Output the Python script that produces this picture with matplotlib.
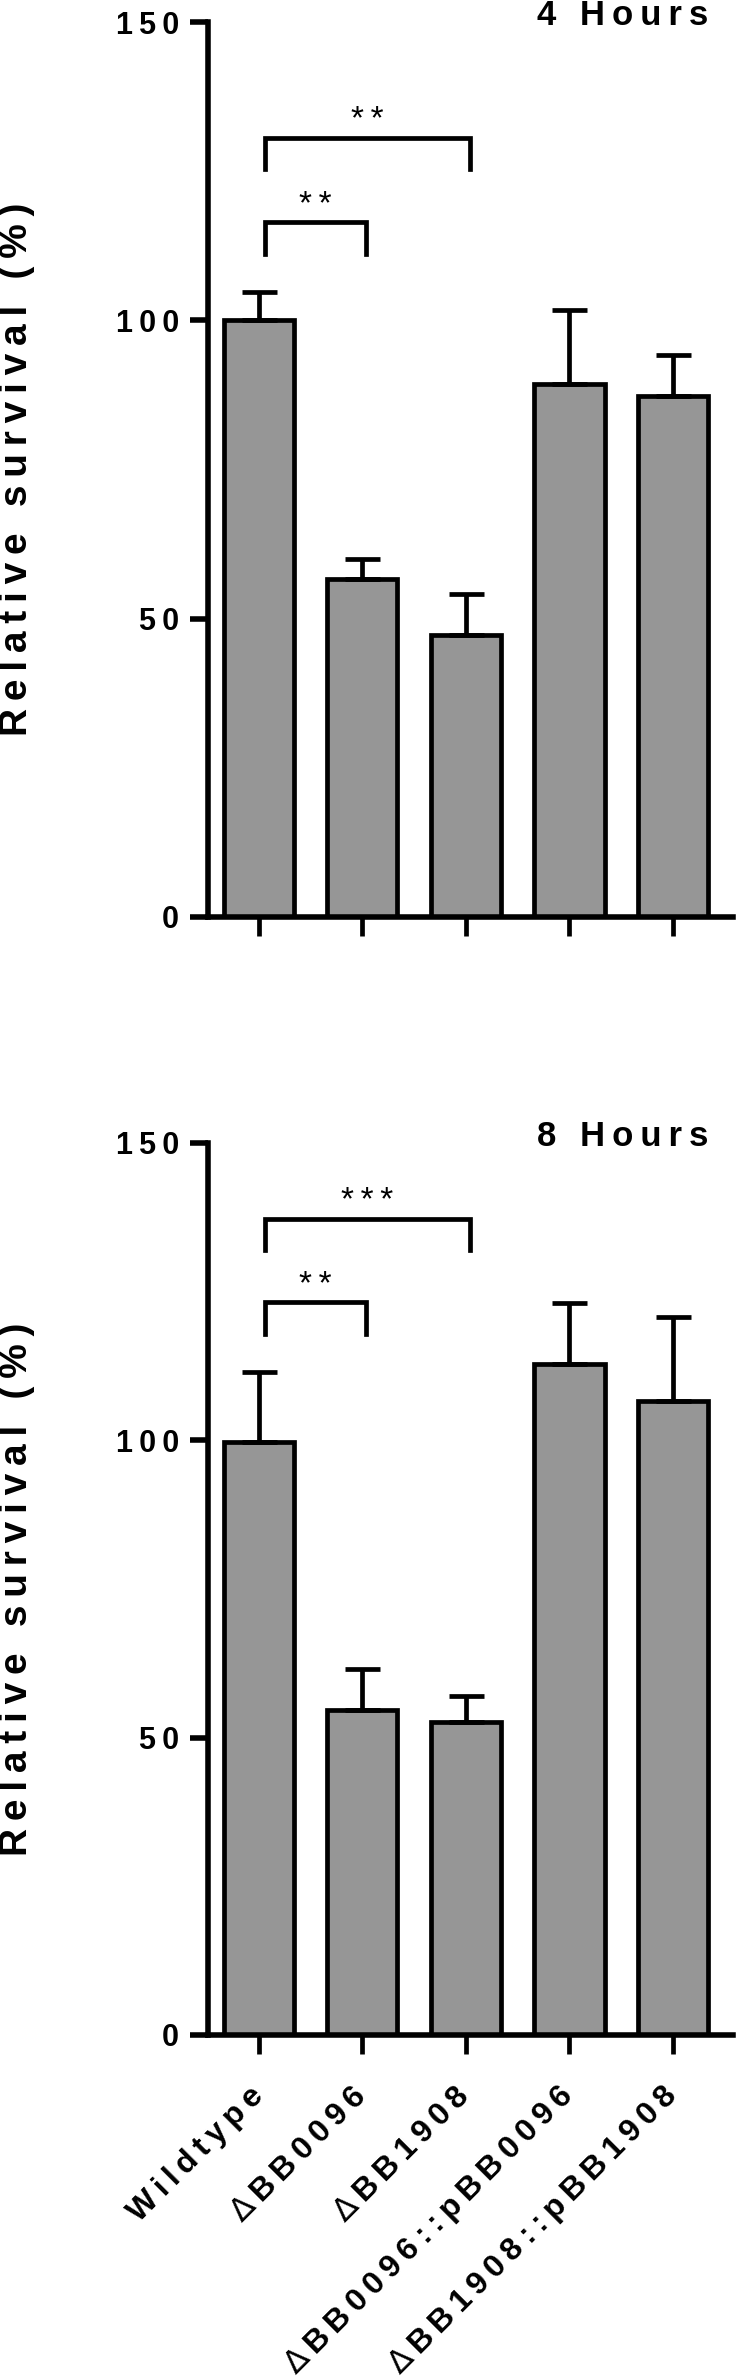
import matplotlib
matplotlib.use("Agg")
import matplotlib.pyplot as plt
import numpy as np

plt.rcParams['font.family'] = ['Liberation Sans', 'DejaVu Sans']

# data
strains = ["Wildtype", "\u0394BB0096", "\u0394BB1908",
           "\u0394BB0096::pBB0096", "\u0394BB1908::pBB1908"]
panel_titles = ["4 Hours", "8 Hours"]
survival_4h = [100.0, 56.6, 47.2, 89.3, 87.4]
sem_4h = [4.8, 3.4, 6.9, 12.5, 6.8]
survival_8h = [99.8, 54.6, 52.6, 112.8, 106.6]
sem_8h = [11.7, 6.9, 4.4, 10.3, 14.1]
yticks = [0, 50, 100, 150]
# significance brackets: (bar a, bar b, stars)
sig_4h = [(0, 1, "**"), (0, 2, "**")]
sig_8h = [(0, 1, "**"), (0, 2, "***")]

TS = "\u2009"  # thin space, GraphPad style letter spacing


def spaced(s):
    return TS.join(s)


def strain_label(s):
    # thin regular-weight delta like the original export
    if s.startswith("\u0394"):
        return r"$\Delta$" + TS + spaced(s[1:])
    return spaced(s)


W, H = 737, 2379
fig = plt.figure(figsize=(W / 100, H / 100), dpi=100)

# axes boxes in pixels (left, top, right, bottom)
boxes = [(208, 22, 733, 917), (208, 1143, 733, 2035)]

panels = [(survival_4h, sem_4h, sig_4h), (survival_8h, sem_8h, sig_8h)]

for k, ((vals, errs, sigs), box) in enumerate(zip(panels, boxes)):
    l, t, r, b = box
    ax = fig.add_axes([l / W, 1 - b / H, (r - l) / W, (b - t) / H])
    x = np.arange(len(strains))
    ax.bar(x, vals, width=0.68, color='#969696', edgecolor='black',
           linewidth=3.4, zorder=2)
    ax.errorbar(x, vals, yerr=[np.zeros(len(vals)), errs], fmt='none',
                ecolor='black', elinewidth=3.4, capsize=12.6, capthick=3.4,
                zorder=3)

    ax.set_xlim(-0.49, 4.58)
    ax.set_ylim(0, 150)
    ax.spines['top'].set_visible(False)
    ax.spines['right'].set_visible(False)
    for s in ['left', 'bottom']:
        ax.spines[s].set_linewidth(4)
        ax.spines[s].set_capstyle('projecting')

    ax.set_yticks(yticks)
    ax.set_yticklabels([spaced(str(v)) for v in yticks], fontweight='bold')
    ax.tick_params(axis='y', length=13, width=4, pad=8, labelsize=22)
    ax.set_xticks(x)
    ax.tick_params(axis='x', length=13.5, width=3.4, pad=27)
    if k == 1:
        ax.set_xticklabels([strain_label(s) for s in strains], rotation=45,
                           ha='right', va='center', rotation_mode='anchor',
                           fontsize=23, fontweight='bold')
    else:
        ax.set_xticklabels([])

    # significance brackets
    tops = np.array(vals) + np.array(errs)
    level = max(tops[a:b + 1].max() for a, b, _ in sigs) + 11.7
    for i, (a, b2, lab) in enumerate(sigs):
        yl = level + 14.1 * i
        xa, xb = a + 0.06, b2 + 0.04
        ax.plot([xa, xa, xb, xb], [yl - 5.3, yl, yl, yl - 5.3], color='black',
                lw=3.4, solid_joinstyle='miter', clip_on=False, zorder=4)
        ax.text((xa + xb) / 2, yl + 1.4, spaced(lab), ha='center',
                va='baseline', fontsize=24)

    ax.text(4.34, 151.1, spaced(panel_titles[k]), ha='right', va='center',
            fontsize=25, fontweight='bold')

    fig.text(17 / W, 1 - (t + b) / 2 / H, spaced("Relative survival (%)"),
             rotation=90, ha='center', va='center', fontsize=28,
             fontweight='bold')

fig.savefig("out.png", dpi=100)
